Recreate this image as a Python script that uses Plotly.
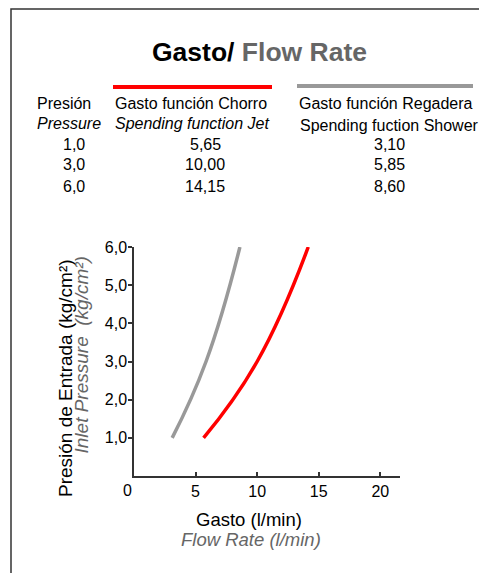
import plotly.graph_objects as go

# ---- data ----
pressure = [1.0, 3.0, 6.0]
jet_flow = [5.65, 10.00, 14.15]
shower_flow = [3.10, 5.85, 8.60]
y_ticks = [1, 2, 3, 4, 5, 6]
x_ticks = [5, 10, 15, 20]

def comma(v, d):
    return f"{v:.{d}f}".replace(".", ",")

# ---- layout geometry (screen pixels; page body has an 8px margin) ----
OFF = 8
FW, FH = 487 - OFF, 573 - OFF
PL, PR, PT, PB = 134, 400, 247, 476   # plot area in screen pixels
L, T = PL - OFF, PT - OFF
R, B = FW - (PR - OFF), FH - (PB - OFF)
PW = PR - PL
PH = PB - PT

def X(px):
    return (px - PL) / PW

def Y(py):
    return (PB - py) / PH

FONT = "Arial, Liberation Sans, sans-serif"

fig = go.Figure()
fig.add_trace(go.Scatter(x=shower_flow, y=pressure, mode="lines",
                         line=dict(color="#999999", width=3.5, shape="spline", smoothing=1.3),
                         name="Regadera", showlegend=False))
fig.add_trace(go.Scatter(x=jet_flow, y=pressure, mode="lines",
                         line=dict(color="#ff0000", width=3.5, shape="spline", smoothing=1.3),
                         name="Chorro", showlegend=False))

ann = []
def txt(text, px, py, size=16, color="black", xanchor="center", yanchor="middle", angle=0):
    ann.append(dict(text=text, x=X(px), y=Y(py), xref="paper", yref="paper",
                    showarrow=False, xanchor=xanchor, yanchor=yanchor, textangle=angle,
                    font=dict(family=FONT, size=size, color=color)))

# title
txt("<b>Gasto/ <span style='color:#666666'>Flow Rate</span></b>", 259, 52, size=26.5)

# table
row_y = [144, 164, 186]
txt("Presión", 64, 103)
txt("<i>Pressure</i>", 69, 123)
txt("Gasto función Chorro", 191, 103)
txt("<i>Spending function Jet</i>", 192, 123)
txt("Gasto función Regadera", 386, 103)
txt("Spending fuction Shower", 389, 125)
for p, j, s, ry in zip(pressure, jet_flow, shower_flow, row_y):
    txt(comma(p, 1), 74, ry)
    txt(comma(j, 2), 205, ry)
    txt(comma(s, 2), 389, ry)

# axis titles
txt("Gasto (l/min)", 249, 519, size=18.5)
txt("<i>Flow Rate (l/min)</i>", 251, 539, size=18.5, color="#666666")
txt("Presión de Entrada (kg/cm²)", 65, 257, size=19, yanchor="top", angle=-90)
txt("<i>Inlet Pressure  (kg/cm²)</i>", 81, 255, size=19, color="#666666", yanchor="top", angle=-90)
txt("0", 127, 490, size=16)

shapes = [
    dict(type="line", xref="paper", yref="paper", x0=X(113), x1=X(272), y0=Y(87), y1=Y(87),
         line=dict(color="#ff0000", width=4)),
    dict(type="line", xref="paper", yref="paper", x0=X(297), x1=X(473), y0=Y(86), y1=Y(86),
         line=dict(color="#999999", width=4)),
    dict(type="rect", xref="paper", yref="paper", x0=X(11), x1=X(500), y0=Y(9), y1=Y(590),
         line=dict(color="#333333", width=1.5)),
]

axis_common = dict(showgrid=False, zeroline=False, linecolor="#333333", linewidth=1.5,
                   tickcolor="#333333", tickwidth=1.5,
                   tickfont=dict(family=FONT, size=16, color="black"))

fig.update_layout(
    width=FW, height=FH,
    margin=dict(l=L, r=R, t=T, b=B),
    paper_bgcolor="white", plot_bgcolor="white",
    showlegend=False,
    xaxis=dict(range=[0, 21.6], showline=True, ticks="inside", ticklen=4,
               tickvals=x_ticks, ticktext=[str(v) for v in x_ticks], **axis_common),
    yaxis=dict(range=[0, 6], showline=True, ticks="outside", ticklen=4,
               ticklabelstandoff=-2,
               tickvals=y_ticks, ticktext=[comma(v, 1) for v in y_ticks], **axis_common),
    yaxis2=dict(range=[0, 6], overlaying="y", anchor="x", side="left", showline=False,
                ticks="inside", ticklen=5, tickvals=y_ticks, showticklabels=False,
                showgrid=False, zeroline=False, tickcolor="#333333", tickwidth=1.5),
    annotations=ann,
    shapes=shapes,
)

fig.write_html("out.html")
